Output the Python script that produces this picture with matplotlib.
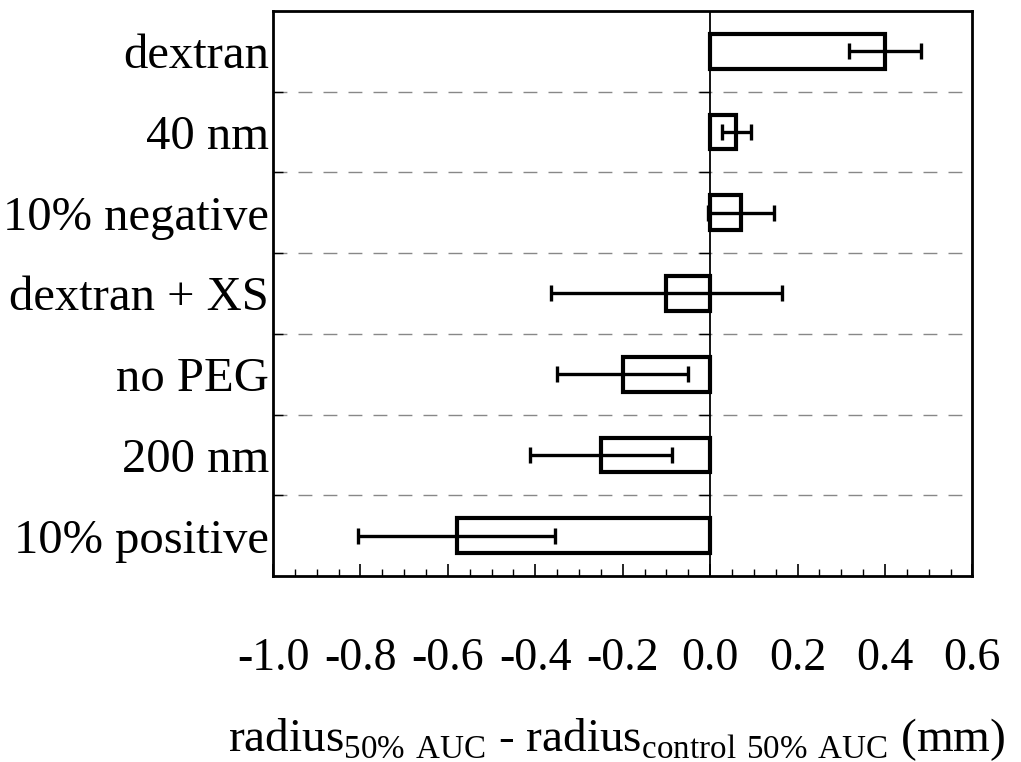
import numpy as np
import matplotlib
matplotlib.use("Agg")
import matplotlib.pyplot as plt
from matplotlib.ticker import MultipleLocator, FixedLocator

plt.rcParams['font.family'] = 'Liberation Serif'
plt.rcParams['mathtext.fontset'] = 'custom'
plt.rcParams['mathtext.rm'] = 'Liberation Serif'

# --- data (top to bottom) ---
labels = ["dextran", "40 nm", "10% negative", "dextran + XS", "no PEG", "200 nm", "10% positive"]
values = [0.40, 0.06, 0.07, -0.10, -0.20, -0.25, -0.58]
errors = [0.082, 0.033, 0.076, 0.264, 0.15, 0.162, 0.225]
xticks = [-1.0, -0.8, -0.6, -0.4, -0.2, 0.0, 0.2, 0.4, 0.6]

n = len(labels)
ypos = np.arange(n)[::-1]  # dextran at top

fig = plt.figure(figsize=(10.21, 7.62), dpi=100)
ax = fig.add_axes([0.2674, 0.2441, 0.685, 0.7415])

ax.barh(ypos, values, height=0.43, color='white', edgecolor='black', linewidth=3.0, zorder=3)
ax.errorbar(values, ypos, xerr=errors, fmt='none', ecolor='black', elinewidth=2.4,
            capsize=6, capthick=2.4, zorder=4)

# zero line with little ticks at category boundaries
bounds = np.arange(n - 1) + 0.5
ax.axvline(0, color='black', linewidth=1.3, zorder=2)
ax.hlines(bounds, -0.025, 0, color='black', linewidth=1.0, zorder=2)

# dashed gridlines between categories
ax.hlines(bounds, -1.0, 0.6, color='#888888', linewidth=1.0, linestyles=(0, (10, 8)), zorder=1)

ax.set_xlim(-1.0, 0.6)
ax.set_ylim(-0.5, n - 0.5)

ax.xaxis.set_major_locator(FixedLocator(xticks))
ax.xaxis.set_minor_locator(MultipleLocator(0.05))
ax.set_xticklabels([f"{v:.1f}" for v in xticks])
ax.tick_params(axis='x', which='major', direction='in', length=9, width=1.2, pad=44, labelsize=33)
ax.tick_params(axis='x', which='minor', direction='in', length=5, width=1.0)

ax.set_yticks(ypos)
ax.set_yticklabels(labels)
ax.yaxis.set_minor_locator(FixedLocator(bounds))
ax.tick_params(axis='y', which='major', length=0, pad=3, labelsize=35)
ax.tick_params(axis='y', which='minor', direction='in', length=7, width=1.0)

for s in ax.spines.values():
    s.set_linewidth(2.0)

fig.text(0.604, 0.014,
         r"radius$_{\mathrm{50\%\ AUC}}$ - radius$_{\mathrm{control\ 50\%\ AUC}}$ (mm)",
         fontsize=34, ha='center', va='baseline')

fig.savefig("out.png", dpi=100)
